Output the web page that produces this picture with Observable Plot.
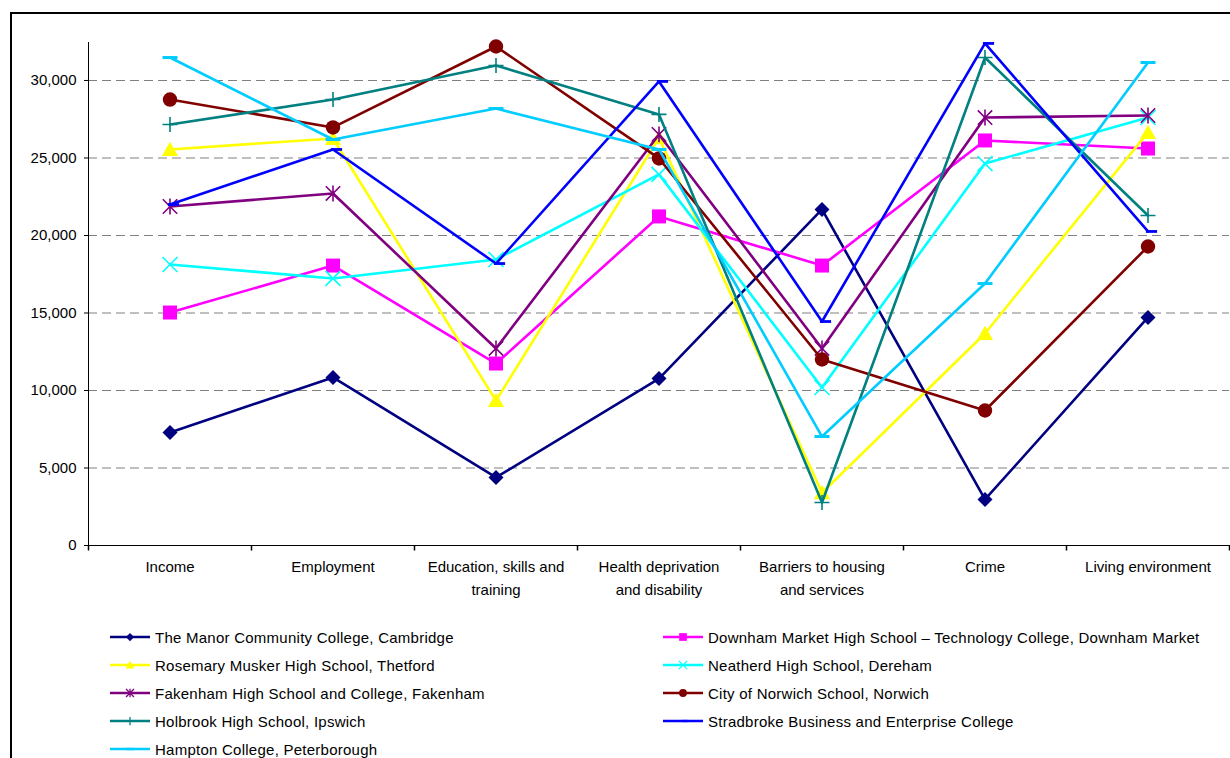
<!DOCTYPE html>
<html>
<head>
<meta charset="utf-8">
<script src="https://cdn.jsdelivr.net/npm/d3@7"></script>
<script src="https://cdn.jsdelivr.net/npm/@observablehq/plot@0.6"></script>
<style>
  html, body { margin: 0; padding: 0; background: #fff; overflow: hidden; }
  body { width: 1230px; height: 758px; position: relative; font-family: "Liberation Sans", Arial, sans-serif; }
  #frame { position: absolute; left: 10px; top: 12px; width: 1260px; height: 800px; border: 2px solid #000; box-sizing: border-box; }
  #chart { position: absolute; left: 0; top: 0; }
  #legend { position: absolute; left: 110px; top: 623px; display: grid; grid-template-columns: 553px 560px; grid-auto-rows: 28px; }
  .item { display: flex; align-items: center; font-size: 15px; letter-spacing: 0.25px; color: #000; white-space: nowrap; }
  .item svg { flex: none; }
</style>
</head>
<body>
<div id="frame"></div>
<div id="chart"></div>
<div id="legend"></div>
<script>
const categories = ["Income", "Employment", "Education, skills and\ntraining", "Health deprivation\nand disability", "Barriers to housing\nand services", "Crime", "Living environment"];
const yTicks = [0, 5000, 10000, 15000, 20000, 25000, 30000];

const schools = [
  "The Manor Community College, Cambridge",
  "Downham Market High School – Technology College, Downham Market",
  "Rosemary Musker High School, Thetford",
  "Neatherd High School, Dereham",
  "Fakenham High School and College, Fakenham",
  "City of Norwich School, Norwich",
  "Holbrook High School, Ipswich",
  "Stradbroke Business and Enterprise College",
  "Hampton College, Peterborough"
];

const manor      = [7290, 10840, 4390, 10770, 21680, 2970, 14710];
const downham    = [15030, 18060, 11740, 21230, 18060, 26130, 25610];
const rosemary   = [25550, 26260, 9350, 26300, 3400, 13680, 26650];
const neatherd   = [18130, 17230, 18450, 23940, 10190, 24640, 27610];
const fakenham   = [21870, 22710, 12710, 26520, 12710, 27610, 27740];
const norwich    = [28770, 26970, 32190, 24970, 12000, 8710, 19290];
const holbrook   = [27160, 28770, 30970, 27810, 2770, 31480, 21290];
const stradbroke = [22000, 25550, 18190, 29940, 14450, 32390, 20260];
const hampton    = [31480, 26190, 28190, 25550, 7030, 16900, 31160];

const seriesValues = [manor, downham, rosemary, neatherd, fakenham, norwich, holbrook, stradbroke, hampton];
const colors = ["#000080", "#FF00FF", "#FFFF00", "#00FFFF", "#800080", "#800000", "#008080", "#0000FF", "#00CCFF"];

// Excel-like marker shapes (size -> r)
function sym(fn) { return { draw(ctx, size) { fn(ctx, Math.sqrt(size / Math.PI)); } }; }
const diamond = sym((c, r) => { c.moveTo(0, -r); c.lineTo(r, 0); c.lineTo(0, r); c.lineTo(-r, 0); c.closePath(); });
const square = sym((c, r) => { c.rect(-r, -r, 2 * r, 2 * r); });
const triangle = sym((c, r) => { c.moveTo(0, -r); c.lineTo(r * 1.05, r * 0.85); c.lineTo(-r * 1.05, r * 0.85); c.closePath(); });
const times = sym((c, r) => { c.moveTo(-r, -r); c.lineTo(r, r); c.moveTo(r, -r); c.lineTo(-r, r); });
const star = sym((c, r) => { c.moveTo(-r, -r); c.lineTo(r, r); c.moveTo(r, -r); c.lineTo(-r, r); c.moveTo(0, -r * 1.1); c.lineTo(0, r * 1.1); });
const circle = sym((c, r) => { c.moveTo(r, 0); c.arc(0, 0, r, 0, 2 * Math.PI); });
const plus = sym((c, r) => { c.moveTo(-r, 0); c.lineTo(r, 0); c.moveTo(0, -r); c.lineTo(0, r); });
const dashShort = sym((c, r) => { c.moveTo(-r * 0.3, 0); c.lineTo(r * 1.3, 0); });
const dashLong = sym((c, r) => { c.moveTo(-r, 0); c.lineTo(r, 0); });
const vtick = { draw(c) { c.moveTo(0, 0); c.lineTo(0, 5); } };

const markers = [
  { symbol: diamond, r: 7.5, filled: true },
  { symbol: square, r: 7, filled: true },
  { symbol: triangle, r: 7.7, filled: true },
  { symbol: times, r: 7.5, filled: false, sw: 1.6 },
  { symbol: star, r: 7.2, filled: false, sw: 1.6 },
  { symbol: circle, r: 7.2, filled: true },
  { symbol: plus, r: 7.5, filled: false, sw: 1.6 },
  { symbol: dashShort, r: 7, filled: false, sw: 2.8 },
  { symbol: dashLong, r: 7.5, filled: false, sw: 3 }
];

const rows = [];
schools.forEach((s, i) => seriesValues[i].forEach((v, j) => rows.push({ school: s, idx: i, category: categories[j], value: v })));

const W = 1230, left = 88, right = 1229;
const bw = (right - left) / categories.length;

const marks = [
  Plot.ruleY(yTicks.filter(d => d > 0), { stroke: "#808080", strokeWidth: 1.2, strokeDasharray: "9,5" }),
  Plot.frame({ anchor: "left", stroke: "#000" }),
  Plot.frame({ anchor: "bottom", stroke: "#000" }),
  Plot.dot(categories, { x: d => d, y: 0, symbol: vtick, stroke: "#000", fill: "none", r: 1, dx: -bw / 2 }),
  Plot.dot(categories.slice(-1), { x: d => d, y: 0, symbol: vtick, stroke: "#000", fill: "none", r: 1, dx: bw / 2 }),
  Plot.axisY({ ticks: yTicks, tickFormat: d3.format(","), tickSize: 4, tickPadding: 8, fontSize: 15, stroke: "#000" }),
  Plot.axisX({ tickSize: 0, tickPadding: 10, fontSize: 15, lineHeight: 1.53 })
];

schools.forEach((s, i) => {
  const data = rows.filter(d => d.idx === i);
  const m = markers[i];
  marks.push(Plot.line(data, { x: "category", y: "value", stroke: colors[i], strokeWidth: 2.6 }));
  marks.push(Plot.dot(data, {
    x: "category", y: "value", symbol: m.symbol, r: m.r,
    fill: m.filled ? colors[i] : "none",
    stroke: m.filled ? "none" : colors[i],
    strokeWidth: m.sw || 1
  }));
});

const chart = Plot.plot({
  width: W,
  height: 610,
  marginLeft: left,
  marginRight: W - right,
  marginTop: 42,
  marginBottom: 65,
  style: { fontFamily: "'Liberation Sans', Arial, sans-serif", fontSize: "15px", color: "#000", background: "transparent" },
  x: { type: "band", domain: categories, padding: 0, label: null },
  y: { domain: [0, 32450], label: null },
  marks
});
document.getElementById("chart").appendChild(chart);

// Legend (Excel order: row-major, 2 columns)
const legend = document.getElementById("legend");
schools.forEach((s, i) => {
  const item = document.createElement("div");
  item.className = "item";
  const m = markers[i];
  const svg = d3.create("svg").attr("width", 45).attr("height", 28);
  svg.append("line").attr("x1", 0).attr("x2", 40).attr("y1", 14).attr("y2", 14).attr("stroke", colors[i]).attr("stroke-width", 2.6);
  const p = d3.path();
  const rr = m.r * 0.55;
  m.symbol.draw(p, Math.PI * rr * rr);
  svg.append("path").attr("d", p.toString()).attr("transform", "translate(20,14)")
    .attr("fill", m.filled ? colors[i] : "none")
    .attr("stroke", m.filled ? "none" : colors[i])
    .attr("stroke-width", m.filled ? 0 : Math.max(1.2, (m.sw || 1) * 0.8));
  item.appendChild(svg.node());
  const t = document.createElement("span");
  t.textContent = s;
  item.appendChild(t);
  legend.appendChild(item);
});
</script>
</body>
</html>
